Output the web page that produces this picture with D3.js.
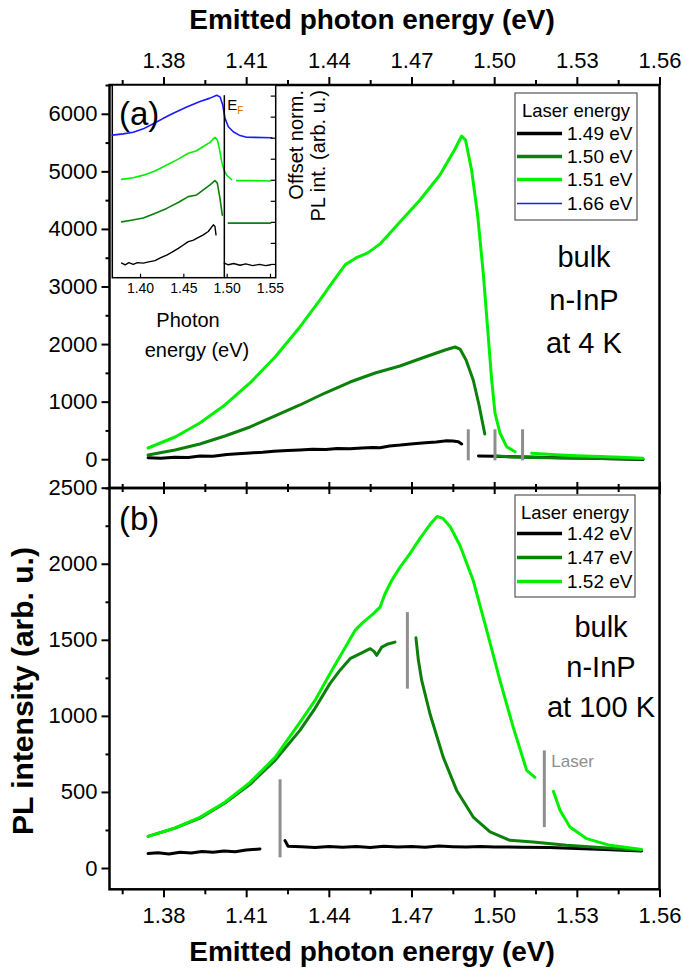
<!DOCTYPE html>
<html><head><meta charset="utf-8">
<script src="https://cdn.jsdelivr.net/npm/d3@7"></script>
<style>
body{margin:0;background:#fff}
svg text{font-family:"Liberation Sans",Arial,sans-serif;fill:#000}
</style>
</head><body>
<svg id="c" width="683" height="973"></svg>
<script>
// ---------------- DATA ----------------
const xTickValues = [1.38,1.41,1.44,1.47,1.50,1.53,1.56];
const xMinorValues = [1.365,1.395,1.425,1.455,1.485,1.515,1.545];
const yTicksA = [0,1000,2000,3000,4000,5000,6000];
const yMinorA = [-500,500,1500,2500,3500,4500,5500,6500];
const yTicksB = [0,500,1000,1500,2000,2500];
const yMinorB = [250,750,1250,1750,2250];
const insetXTicks = [1.40,1.45,1.50,1.55];
const insetYTicks = [0,0.5,1,1.5,2,2.5,3,3.5,4];

const legendATitle = "Laser energy";
const legendALabels = ["1.49 eV","1.50 eV","1.51 eV","1.66 eV"];
const legendBTitle = "Laser energy";
const legendBLabels = ["1.42 eV","1.47 eV","1.52 eV"];

// panel (a), 4 K  [energy eV, PL intensity]; null = gap at laser line
const a149 = [[1.3744,25],[1.3790,15],[1.3840,35],[1.3890,30],[1.3932,56],[1.3980,50],[1.4030,80],[1.4070,95],[1.4114,110],[1.4160,120],[1.4200,140],[1.4250,150],[1.4295,160],[1.4340,172],[1.4390,168],[1.4430,185],[1.4477,180],[1.4520,195],[1.4560,205],[1.4586,200],[1.4620,230],[1.4660,245],[1.4707,270],[1.4750,285],[1.4790,300],[1.4828,322],[1.4850,318],[1.4870,304],[1.4882,264],
  null,[1.4943,56],[1.5000,50],[1.5060,42],[1.5120,38],[1.5202,30],[1.5300,22],[1.5384,12],[1.5460,5],[1.5540,-5]];
const a150 = [[1.3744,73],[1.3842,160],[1.3932,264],[1.4023,403],[1.4114,560],[1.4205,751],[1.4295,942],[1.4386,1150],[1.4477,1341],[1.4568,1498],[1.4658,1619],[1.4749,1776],[1.4822,1897],[1.4858,1949],[1.4876,1914],[1.4898,1723],[1.4924,1376],[1.4945,942],[1.4966,438],
  null,[1.5009,56],[1.5076,38],[1.5148,30],[1.5250,22],[1.5400,12],[1.5540,5]];
const a151 = [[1.3744,195],[1.3842,386],[1.3932,629],[1.4023,942],[1.4114,1324],[1.4205,1776],[1.4295,2297],[1.4368,2766],[1.4420,3120],[1.4460,3380],[1.4500,3500],[1.4540,3580],[1.4586,3740],[1.4658,4121],[1.4731,4503],[1.4803,4937],[1.4856,5371],[1.4882,5614],[1.4896,5545],[1.4918,5024],[1.4940,4242],[1.4961,3200],[1.4991,1376],[1.5003,803],[1.5021,455],[1.5045,217],[1.5076,130],
  null,[1.5136,103],[1.5239,73],[1.5300,60],[1.5384,47],[1.5460,32],[1.5540,16]];
const laserA = [1.4906,1.5003,1.5103];
const laserALen = [-20,520];

// inset (a): offset normalised PL
const i149 = [[1.3788,0.02],[1.3830,-0.02],[1.3870,0.03],[1.3922,-0.01],[1.3970,0.03],[1.4038,0.02],[1.4100,0.05],[1.4173,0.08],[1.4240,0.15],[1.4308,0.21],[1.4370,0.28],[1.4442,0.37],[1.4500,0.45],[1.4557,0.53],[1.4610,0.56],[1.4654,0.61],[1.4730,0.69],[1.4788,0.77],[1.4846,0.93],[1.4865,0.89],[1.4877,0.69],
  null,[1.4973,0.02],[1.5020,-0.02],[1.5080,0.01],[1.5154,-0.03],[1.5220,0.0],[1.5300,-0.04],[1.5380,-0.01],[1.5450,-0.04],[1.5508,-0.02]];
const i150 = [[1.3788,1.00],[1.3900,1.04],[1.4038,1.09],[1.4170,1.20],[1.4308,1.32],[1.4440,1.46],[1.4557,1.60],[1.4654,1.64],[1.4730,1.76],[1.4808,1.88],[1.4865,1.98],[1.4892,1.92],[1.4923,1.56],[1.4950,1.16],
  null,[1.5019,0.97],[1.5250,0.97],[1.5508,0.97]];
const i151 = [[1.3788,2.01],[1.3922,2.05],[1.4038,2.11],[1.4173,2.21],[1.4308,2.35],[1.4442,2.49],[1.4557,2.63],[1.4654,2.69],[1.4730,2.79],[1.4808,2.89],[1.4865,3.01],[1.4892,2.95],[1.4915,2.75],[1.4943,2.43],[1.4969,2.23],[1.5000,2.11],[1.5058,2.00],
  null,[1.5116,1.98],[1.5300,1.98],[1.5508,1.97]];
const i166 = [[1.3680,3.06],[1.3807,3.09],[1.3922,3.13],[1.4038,3.21],[1.4153,3.33],[1.4269,3.46],[1.4384,3.58],[1.4539,3.73],[1.4692,3.86],[1.4808,3.94],[1.4885,4.01],[1.4923,3.97],[1.4954,3.78],[1.4981,3.46],[1.5019,3.26],[1.5077,3.14],[1.5154,3.05],[1.5231,3.01],[1.5520,3.00]];
const fermiE = 1.4973;
const fermiTop = 4.01;

// panel (b), 100 K
const b142 = [[1.3744,95],[1.3780,100],[1.3820,92],[1.3860,104],[1.3900,98],[1.3940,108],[1.3980,103],[1.4020,112],[1.4060,107],[1.4100,118],[1.4150,125],
  null,[1.4241,180],[1.4252,143],[1.4300,140],[1.4350,135],[1.4400,142],[1.4450,136],[1.4500,141],[1.4550,135],[1.4600,143],[1.4650,138],[1.4700,142],[1.4750,136],[1.4800,144],[1.4850,140],[1.4900,138],[1.4950,142],[1.5000,138],[1.5100,137],[1.5200,135],[1.5300,128],[1.5400,122],[1.5535,112]];
const b147 = [[1.3744,208],[1.3842,262],[1.3932,328],[1.4023,427],[1.4114,550],[1.4205,708],[1.4295,905],[1.4350,1050],[1.4404,1212],[1.4440,1299],[1.4477,1376],[1.4525,1419],[1.4550,1442],[1.4564,1424],[1.4574,1398],[1.4592,1452],[1.4615,1473],[1.4640,1485],
  null,[1.4716,1514],[1.4725,1365],[1.4737,1233],[1.4767,1014],[1.4815,729],[1.4864,510],[1.4924,335],[1.4985,237],[1.5057,182],[1.5141,171],[1.5263,149],[1.5384,134],[1.5530,116]];
const b152 = [[1.3744,208],[1.3842,263],[1.3932,333],[1.4023,432],[1.4114,563],[1.4205,727],[1.4295,957],[1.4350,1102],[1.4404,1277],[1.4453,1430],[1.4495,1562],[1.4525,1616],[1.4561,1671],[1.4586,1715],[1.4604,1803],[1.4628,1890],[1.4658,1976],[1.4695,2068],[1.4731,2167],[1.4767,2258],[1.4793,2311],[1.4814,2298],[1.4840,2245],[1.4876,2120],[1.4924,1890],[1.4973,1562],[1.5021,1233],[1.5069,926],[1.5118,642],[1.5148,596],
  null,[1.5215,504],[1.5239,379],[1.5275,269],[1.5336,193],[1.5420,149],[1.5535,121]];
const laserB = [[1.4223,70,583],[1.4685,1179,1682],[1.5182,269,773]];
const laserText = "Laser";

// ---------------- LAYOUT ----------------
const svg = d3.select("#c");
const font = '"Liberation Sans",Arial,sans-serif';
const L = 109.5, R = 659.5;
const x = d3.scaleLinear().domain([1.3604,1.56]).range([L,R]);
const yA = d3.scaleLinear().domain([-500,6500]).range([488,85]);
const yB = d3.scaleLinear().domain([-140,2500]).range([889.3,487.7]);
const xi = d3.scaleLinear().domain([1.368,1.5566]).range([112.3,275.7]);
const yi = d3.scaleLinear().domain([-0.327,4.252]).range([277.7,85]);

const cLight = "#00f000", cDark = "#0b800b", cBlack = "#000", cBlue = "#1a1aff", cGray = "#8e8e8e";
const fmtY = d3.format("d");

function styleAxis(g, fs){
  g.selectAll("path.domain").remove();
  g.selectAll("line").attr("stroke","#000").attr("stroke-width",2);
  g.selectAll("text").attr("font-size",fs).attr("font-family",font).attr("fill","#000");
}

function drawLines(yS, xS, series){
  series.forEach(s=>{
    const ln = d3.line().defined(d=>d!==null).x(d=>xS(d[0])).y(d=>yS(d[1]));
    svg.append("path").attr("d",ln(s.data)).attr("fill","none")
      .attr("stroke",s.color).attr("stroke-width",s.w).attr("stroke-linejoin","round").attr("stroke-linecap","round");
  });
}

// ---- panel (a) axes ----
svg.append("g").attr("transform","translate(0,85)")
  .call(d3.axisTop(x).tickValues(xTickValues).tickFormat(d3.format(".2f")).tickSize(8).tickPadding(9))
  .call(g=>styleAxis(g,22));
svg.append("g").attr("transform","translate(0,85)")
  .call(d3.axisTop(x).tickValues(xMinorValues).tickFormat("").tickSize(5)).call(g=>styleAxis(g,22));
svg.append("g").attr("transform",`translate(${L},0)`)
  .call(d3.axisLeft(yA).tickValues(yTicksA).tickFormat(fmtY).tickSize(8).tickPadding(4)).call(g=>styleAxis(g,22));
svg.append("g").attr("transform",`translate(${L},0)`)
  .call(d3.axisLeft(yA).tickValues(yMinorA).tickFormat("").tickSize(4)).call(g=>styleAxis(g,22));
// junction ticks (bottom of a / top of b)
svg.append("g").attr("transform","translate(0,488)")
  .call(d3.axisBottom(x).tickValues(xTickValues).tickFormat("").tickSize(6)).call(g=>styleAxis(g,22));
svg.append("g").attr("transform","translate(0,488)")
  .call(d3.axisTop(x).tickValues(xTickValues).tickFormat("").tickSize(6)).call(g=>styleAxis(g,22));
svg.append("g").attr("transform","translate(0,488)")
  .call(d3.axisBottom(x).tickValues(xMinorValues).tickFormat("").tickSize(4)).call(g=>styleAxis(g,22));
svg.append("g").attr("transform","translate(0,488)")
  .call(d3.axisTop(x).tickValues(xMinorValues).tickFormat("").tickSize(4)).call(g=>styleAxis(g,22));

// ---- panel (b) axes ----
svg.append("g").attr("transform","translate(0,889.3)")
  .call(d3.axisBottom(x).tickValues(xTickValues).tickFormat(d3.format(".2f")).tickSize(8).tickPadding(10))
  .call(g=>styleAxis(g,22));
svg.append("g").attr("transform","translate(0,889.3)")
  .call(d3.axisBottom(x).tickValues(xMinorValues).tickFormat("").tickSize(5)).call(g=>styleAxis(g,22));
svg.append("g").attr("transform",`translate(${L},0)`)
  .call(d3.axisLeft(yB).tickValues(yTicksB).tickFormat(fmtY).tickSize(8).tickPadding(4)).call(g=>styleAxis(g,22));
svg.append("g").attr("transform",`translate(${L},0)`)
  .call(d3.axisLeft(yB).tickValues(yMinorB).tickFormat("").tickSize(4)).call(g=>styleAxis(g,22));

// ---- curves (a) ----
drawLines(yA, x, [
  {data:a149,color:cBlack,w:3},
  {data:a150,color:cDark,w:3},
  {data:a151,color:cLight,w:3}
]);
laserA.forEach(e=>{
  svg.append("line").attr("x1",x(e)).attr("x2",x(e)).attr("y1",yA(laserALen[0])).attr("y2",yA(laserALen[1]))
    .attr("stroke",cGray).attr("stroke-width",3);
});

// ---- curves (b) ----
drawLines(yB, x, [
  {data:b142,color:cBlack,w:3},
  {data:b147,color:cDark,w:3},
  {data:b152,color:cLight,w:3}
]);
laserB.forEach(l=>{
  svg.append("line").attr("x1",x(l[0])).attr("x2",x(l[0])).attr("y1",yB(l[1])).attr("y2",yB(l[2]))
    .attr("stroke",cGray).attr("stroke-width",3);
});
svg.append("text").attr("x",x(laserB[2][0])+7).attr("y",yB(laserB[2][2])+17)
  .attr("font-size",17).style("fill",cGray).text(laserText);

// ---- frames ----
svg.append("rect").attr("x",L).attr("y",85).attr("width",R-L).attr("height",488-85)
  .attr("fill","none").attr("stroke","#000").attr("stroke-width",2.5);
svg.append("rect").attr("x",L).attr("y",488).attr("width",R-L).attr("height",889.3-488)
  .attr("fill","none").attr("stroke","#000").attr("stroke-width",2.5);

// ---- inset ----
svg.append("rect").attr("x",112.3).attr("y",85).attr("width",275.7-112.3).attr("height",277.7-85)
  .attr("fill","#fff").attr("stroke","#000").attr("stroke-width",1.5);
drawLines(yi, xi, [
  {data:i149,color:cBlack,w:1.4},
  {data:i150,color:cDark,w:1.6},
  {data:i151,color:cLight,w:1.6},
  {data:i166,color:cBlue,w:1.6}
]);
svg.append("line").attr("x1",xi(fermiE)).attr("x2",xi(fermiE)).attr("y1",yi(fermiTop)).attr("y2",277.7)
  .attr("stroke","#000").attr("stroke-width",1.5);
const ef = svg.append("text").attr("x",xi(fermiE)+3).attr("y",110).attr("font-size",15);
ef.append("tspan").text("E");
ef.append("tspan").attr("dy",4).attr("font-size",10).style("fill","#d07000").text("F");
svg.append("g").attr("transform","translate(0,277.7)")
  .call(d3.axisBottom(xi).tickValues(insetXTicks).tickFormat(d3.format(".2f")).tickSize(-4).tickPadding(5))
  .call(g=>{styleAxis(g,14); g.selectAll("line").attr("stroke-width",1.2);});
svg.append("g").attr("transform","translate(275.7,0)")
  .call(d3.axisRight(yi).tickValues(insetYTicks).tickFormat("").tickSize(-5))
  .call(g=>{styleAxis(g,14); g.selectAll("line").attr("stroke-width",1.2);});
svg.append("text").attr("x",188).attr("y",327).attr("text-anchor","middle").attr("font-size",20).text("Photon");
svg.append("text").attr("x",197).attr("y",357).attr("text-anchor","middle").attr("font-size",20).text("energy (eV)");
svg.append("text").attr("transform","translate(303,90) rotate(-90)").attr("text-anchor","end").attr("font-size",20).text("Offset norm.");
svg.append("text").attr("transform","translate(325,90) rotate(-90)").attr("text-anchor","end").attr("font-size",20).text("PL int. (arb. u.)");

// ---- panel labels / annotations ----
svg.append("text").attr("x",119).attr("y",125).attr("font-size",33).text("(a)");
svg.append("text").attr("x",119).attr("y",530).attr("font-size",33).text("(b)");
["bulk","n-InP","at 4 K"].forEach((t,i)=>{
  svg.append("text").attr("x",584).attr("y",267+i*43).attr("text-anchor","middle").attr("font-size",29).text(t);
});
["bulk","n-InP","at 100 K"].forEach((t,i)=>{
  svg.append("text").attr("x",601).attr("y",637+i*40).attr("text-anchor","middle").attr("font-size",29).text(t);
});

// ---- legends ----
function legend(x0,y0,w,h,title,titleY,labels,colors,widths,rowY){
  svg.append("rect").attr("x",x0).attr("y",y0).attr("width",w).attr("height",h)
    .attr("fill","#fff").attr("stroke","#555").attr("stroke-width",1.2);
  svg.append("text").attr("x",x0+w/2).attr("y",titleY).attr("text-anchor","middle").attr("font-size",18.5).text(title);
  labels.forEach((t,i)=>{
    const yy = rowY[i];
    svg.append("line").attr("x1",x0+2).attr("x2",x0+47).attr("y1",yy-6.5).attr("y2",yy-6.5)
      .attr("stroke",colors[i]).attr("stroke-width",widths[i]);
    svg.append("text").attr("x",x0+52).attr("y",yy).attr("font-size",19).text(t);
  });
}
legend(515,93,122,127,legendATitle,117,legendALabels,[cBlack,cDark,cLight,cBlue],[3.5,3.5,3.5,1.5],[140,163,186,210]);
legend(515,495,120,102,legendBTitle,519,legendBLabels,[cBlack,cDark,cLight],[3.5,3.5,3.5],[540,564,588]);

// ---- axis titles ----
svg.append("text").attr("x",372).attr("y",29).attr("text-anchor","middle").attr("font-size",28).attr("font-weight","bold").text("Emitted photon energy (eV)");
svg.append("text").attr("x",372).attr("y",961).attr("text-anchor","middle").attr("font-size",28).attr("font-weight","bold").text("Emitted photon energy (eV)");
svg.append("text").attr("transform","translate(33,691) rotate(-90)").attr("text-anchor","middle").attr("font-size",30).attr("font-weight","bold").text("PL intensity (arb. u.)");
</script>
</body></html>
